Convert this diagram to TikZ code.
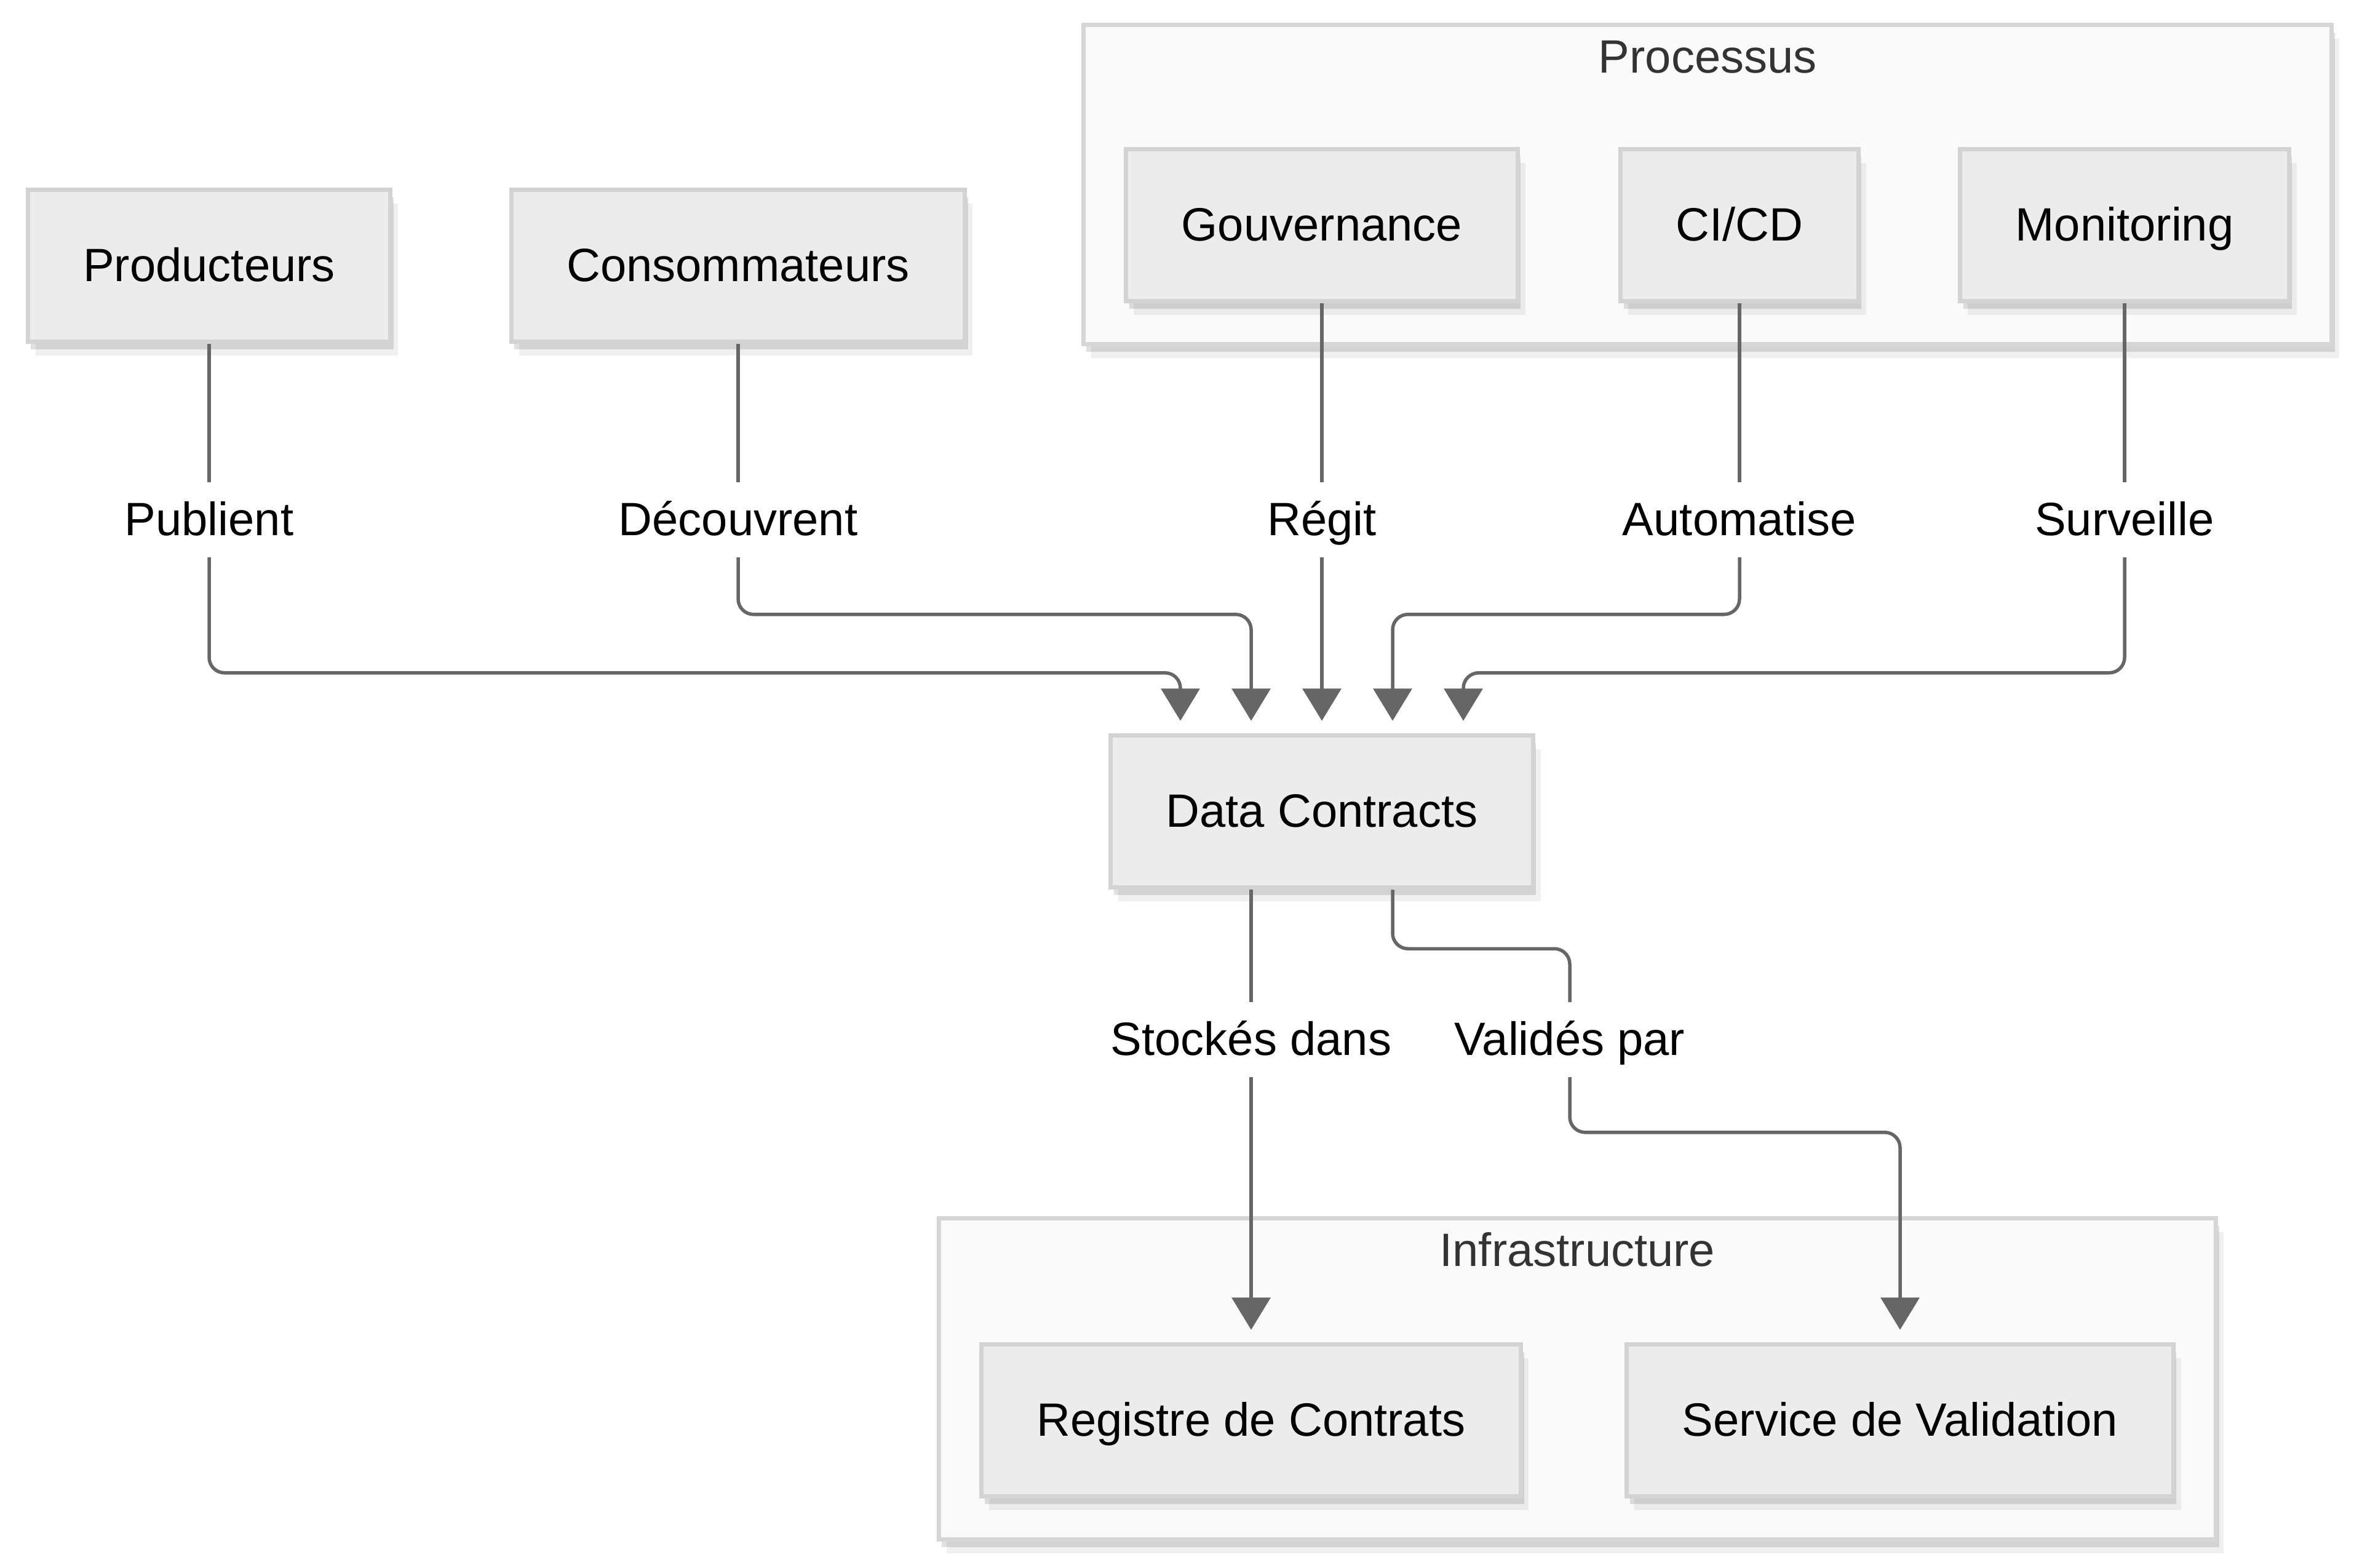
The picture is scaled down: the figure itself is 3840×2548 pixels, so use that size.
\documentclass[tikz,border=0pt]{standalone}
\usepackage{fontspec}
\setmainfont{Liberation Sans}
\usetikzlibrary{arrows.meta,positioning,calc,fit,backgrounds,shadows}

\definecolor{boxfill}{HTML}{ECECEC}
\definecolor{boxline}{HTML}{D3D3D3}
\definecolor{groupfill}{HTML}{FAFAFA}
\definecolor{groupline}{HTML}{D6D6D6}
\definecolor{flowline}{HTML}{666666}
\definecolor{titletext}{HTML}{333333}

\newcommand{\diagfont}{\fontsize{15.2pt}{18pt}\selectfont}

\tikzset{
  softshadow/.style={
    drop shadow={shadow xshift=2.5pt, shadow yshift=-4.5pt, opacity=0.06, fill=black},
    drop shadow={shadow xshift=1pt, shadow yshift=-2.5pt, opacity=0.12, fill=black}},
  box/.style={draw=boxline, fill=boxfill, line width=1.4pt,
    minimum height=49.5pt, inner xsep=18pt, font=\diagfont,
    text height=11pt, text depth=1pt, softshadow},
  group/.style={draw=groupline, fill=groupfill, line width=1.4pt,
    inner sep=13.2pt, softshadow},
  grouptitle/.style={text=titletext, font=\diagfont,
    text height=11pt, text depth=1pt},
  lbl/.style={font=\diagfont, minimum height=24pt, inner xsep=1pt,
    text height=11pt, text depth=1pt},
  flow/.style={draw=flowline, line width=1.1pt, rounded corners=5pt},
  arr/.style={flow, ->, shorten >=4pt}
}

\begin{document}
\begin{tikzpicture}[x=0.2pt, y=-0.2pt,
    >={Triangle[length=10.5pt, width=12.5pt]}]
  \useasboundingbox (0,0) rectangle (3840,2548);

  % main boxes
  \node [box] (prod) at (340,432)   {Producteurs};
  \node [box] (cons) at (1200,432)  {Consommateurs};
  \node [box] (gouv) at (2149,366)  {Gouvernance};
  \node [box] (cicd) at (2828,366)  {CI/CD};
  \node [box] (mon)  at (3454,366)  {Monitoring};
  \node [box] (dc)   at (2149,1319) {Data Contracts};
  \node [box] (reg)  at (2034,2309) {Registre de Contrats};
  \node [box] (svc)  at (3089,2309) {Service de Validation};

  % groups
  \begin{scope}[on background layer]
    \coordinate (ptop) at ($(gouv.north)+(0,-132)$);
    \node [group, fit=(gouv)(mon)(ptop)] (proc) {};
    \node [grouptitle] (proctitle) at ($(proc.north)+(0,56)$) {Processus};
    \coordinate (itop) at ($(reg.north)+(0,-135)$);
    \node [group, fit=(reg)(svc)(itop)] (infra) {};
    \node [grouptitle] (infratitle) at ($(infra.north)+(0,56)$) {Infrastructure};
  \end{scope}

  % edge labels
  \coordinate (toprow) at (0,845);
  \coordinate (lowrow) at (0,1690);
  \node [lbl] (lpub) at (prod |- toprow) {Publient};
  \node [lbl] (ldec) at (cons |- toprow) {Découvrent};
  \node [lbl] (lreg) at (gouv |- toprow) {Régit};
  \node [lbl] (laut) at (cicd |- toprow) {Automatise};
  \node [lbl] (lsur) at (mon |- toprow)  {Surveille};

  \coordinate (in1) at ([xshift=-46pt]dc.north);
  \coordinate (in2) at ([xshift=-23pt]dc.north);
  \coordinate (in3) at (dc.north);
  \coordinate (in4) at ([xshift=23pt]dc.north);
  \coordinate (in5) at ([xshift=46pt]dc.north);
  \coordinate (out1) at ([xshift=-23pt]dc.south);
  \coordinate (out2) at ([xshift=23pt]dc.south);

  \node [lbl] (lsto) at (out1 |- lowrow) {Stockés dans};
  \node [lbl] (lval) at (2552,1690)      {Validés par};

  % connectors
  \draw [flow] (prod) -- (lpub);
  \draw [arr]  (lpub) |- ($(in1)+(0,-98)$) -- (in1);
  \draw [flow] (cons) -- (ldec);
  \draw [arr]  (ldec) |- ($(in2)+(0,-193)$) -- (in2);
  \draw [flow] (gouv) -- (lreg);
  \draw [arr]  (lreg) -- (in3);
  \draw [flow] (cicd) -- (laut);
  \draw [arr]  (laut) |- ($(in4)+(0,-193)$) -- (in4);
  \draw [flow] (mon) -- (lsur);
  \draw [arr]  (lsur) |- ($(in5)+(0,-98)$) -- (in5);

  \draw [flow] (out1) -- (lsto);
  \draw [arr]  (lsto) -- (lsto |- reg.north);
  \draw [flow] (out2) -- ++(0,96) -| (lval);
  \draw [arr]  (lval) |- ($(svc.north)+(0,-341)$) -- (svc.north);
\end{tikzpicture}
\end{document}
